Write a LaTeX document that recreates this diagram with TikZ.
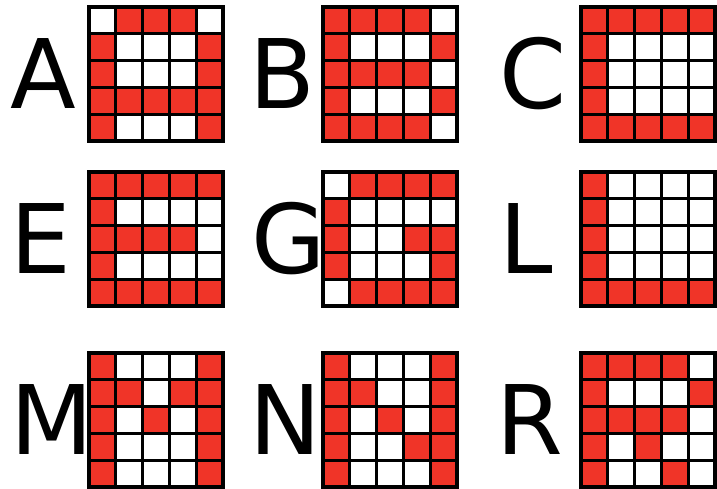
\documentclass[tikz,border=0pt]{standalone}
\usepackage{fontspec}
\setmainfont{DejaVu Sans}
\usepackage{tikz}
\usetikzlibrary{positioning}
\definecolor{pixred}{RGB}{240,52,40}

\begin{document}
\begin{tikzpicture}[
    x=1pt, y=-1pt,
    letter/.style={font=\fontsize{96}{96}\selectfont, inner sep=0pt, anchor=base west},
    pixon/.style={fill=pixred, draw=black, line width=3.2pt},
    pixoff/.style={fill=white, draw=black, line width=3.2pt}
]
\useasboundingbox (0,0) rectangle (717,488);
% grid x, grid y, letter x, letter, five rows of pixels
\foreach \gx/\gy/\lx/\ch/\ra/\rb/\rc/\rd/\re in {
    89/7/10/A/01110/10001/10001/11111/10001,
    323/7/249/B/11110/10001/11110/10001/11110,
    581/7/499/C/11111/10000/10000/10000/11111,
    89/172/10/E/11111/10000/11110/10000/11111,
    323/172/251/G/01111/10000/10011/10001/01111,
    581/172/499/L/10000/10000/10000/10000/11111,
    89/353/10/M/10001/11011/10101/10001/10001,
    323/353/249/N/10001/11001/10101/10011/10001,
    581/353/496/R/11110/10001/11110/10100/10010}{
  \node[letter] (let\ch) at (\lx, \gy+101) {\ch};
  \foreach \row [count=\r] in {\ra,\rb,\rc,\rd,\re} {
    \foreach \c in {1,...,5} {
      \pgfmathtruncatemacro\bit{mod(floor(0b\row/2^(5-\c)),2)}
      \ifnum\bit=1
        \draw[pixon] (\gx+26.8*\c-26.8, \gy+26.8*\r-26.8) rectangle ++(26.8,26.8);
      \else
        \draw[pixoff] (\gx+26.8*\c-26.8, \gy+26.8*\r-26.8) rectangle ++(26.8,26.8);
      \fi
    }
  }
}
\end{tikzpicture}
\end{document}
